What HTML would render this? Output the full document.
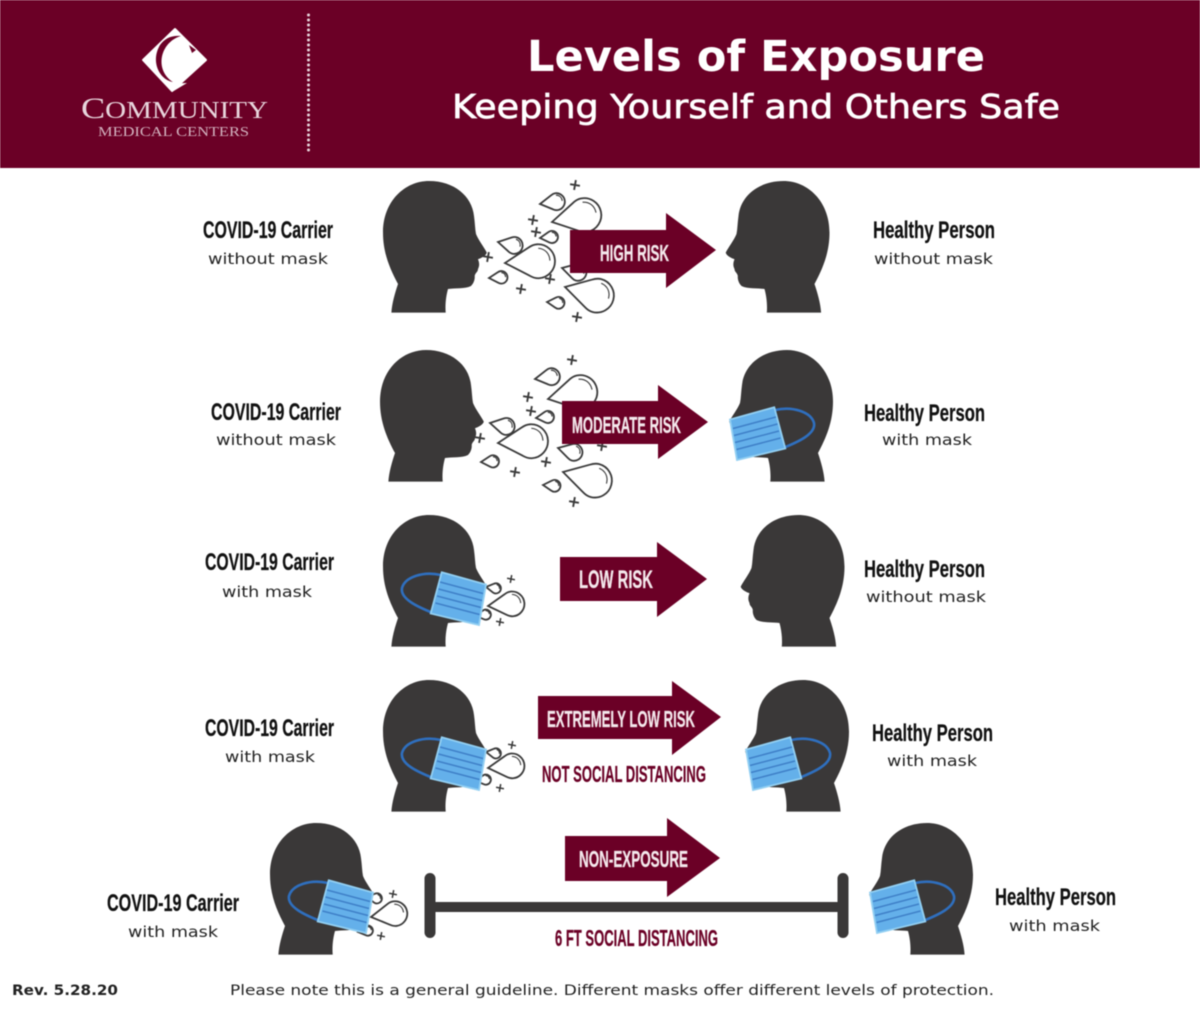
<!DOCTYPE html>
<html><head><meta charset="utf-8"><style>
html,body{margin:0;padding:0;background:#fff;width:1200px;height:1015px;overflow:hidden}
svg{display:block;filter:blur(.55px)}
text{font-family:"Liberation Sans",sans-serif}
.t{font-weight:700;font-size:24px;fill:#111;stroke:#111;stroke-width:.25}
.s{font-family:"DejaVu Sans","Liberation Sans",sans-serif;font-size:15px;fill:#222}
.a{font-weight:700;font-size:23px;fill:#f4e8ec;stroke:#f4e8ec;stroke-width:.25}
.m{font-weight:700;font-size:23px;fill:#6b0026;stroke:#6b0026;stroke-width:.25}
.f{font-family:"DejaVu Sans","Liberation Sans",sans-serif;font-size:14.5px;fill:#222}
.ar{fill:#6b0026}
.pl{stroke:#3a3a3a;stroke-width:1.9;fill:none}
</style></head><body>
<svg xmlns="http://www.w3.org/2000/svg" width="1200" height="1015" viewBox="0 0 1200 1015">
<defs>
<path id="hp" d="M8.4,131.6 C9,122 12,112 15,103 C7,88 0,72 0,51.6 C0,20 22,0 46,0 C71,0 89,15 91,35 C92,42 92,48 93,53 C96,60 101,66 103.8,71.6 C103,75 98,77 95,78.3 C96,81 97,84 95,88 C95,91 92,92 91.7,95 C92,98 91,102 88,105 C82,108 72,107 65,108 C63,115 62,124 62.7,131.6 Z" fill="#3a3838"/>
<g id="mh">
<use href="#hp"/>
<path d="M58,60 C40,56 22,62 19,73 C17,84 35,92 50,98" fill="none" stroke="#2f6fbe" stroke-width="2.6"/>
<path d="M58.7,57.3 L103,69.500 L96,110 L47.7,98.500 Z" fill="#64b0ea" stroke="#92cff2" stroke-width="1.8"/>
<path d="M57,67 L100,78.500 M55.500,74 L99,85.500 M54,81 L98,92.500 M52.500,88 L96.500,99.500" stroke="#3f80c8" stroke-width="1.5" fill="none"/>
</g>
<g id="d" fill="none" stroke="#3a3a3a" stroke-width="1.8">
<path vector-effect="non-scaling-stroke" d="M0,0 L24,-14 C28,-16.500 30,-17 33,-17 A17,17 0 0 1 33,17 C30,17 28,16.500 24,14 Z" fill="#fff"/>
<path vector-effect="non-scaling-stroke" d="M34,-13 C41,-12 45,-7 45,0" stroke-width="1.1"/>
</g>
<path id="p" class="pl" d="M-5,0 H5 M0,-5 V5"/>
</defs>

<rect x="0" y="0" width="1200" height="168" fill="#6b0026"/>
<path d="M175,29 L206,60 L172,91 L143,60 Z" fill="#fff" stroke="#fff" stroke-width="2" stroke-linejoin="round"/>
<path d="M181,36 C160,42 154,70 173,82 C160,80 150,62 160,45 C165,38 172,35 181,36 Z" fill="#6b0026"/>
<path d="M189,45 L196,50 L192,53 Z" fill="#6b0026"/>
<path d="M165,84 L187,83 L172,92 Z" fill="#fff"/>
<text x="81" y="118" textLength="187" lengthAdjust="spacingAndGlyphs" style="font-family:'Liberation Serif',serif;font-size:30px;fill:#e8d5dc">C<tspan font-size="24">OMMUNITY</tspan></text>
<text x="98" y="136" textLength="151" lengthAdjust="spacingAndGlyphs" style="font-family:'Liberation Serif',serif;font-size:14px;fill:#d3b2bf">MEDICAL CENTERS</text>
<line x1="308.500" y1="15" x2="308.500" y2="153" stroke="#e8d5dc" stroke-width="3" stroke-dasharray="0 5" stroke-linecap="round"/>
<text x="527" y="71" textLength="458" lengthAdjust="spacingAndGlyphs" style="font-family:'DejaVu Sans',sans-serif;font-weight:700;font-size:43px;fill:#fff">Levels of Exposure</text>
<text x="452" y="118" textLength="608" lengthAdjust="spacingAndGlyphs" style="font-family:'DejaVu Sans',sans-serif;font-size:33px;fill:#fff;stroke:#fff;stroke-width:.7">Keeping Yourself and Others Safe</text>

<!-- Row 1 -->
<use href="#hp" transform="translate(383,181)"/>
<use href="#hp" transform="translate(829.500,181) scale(-1,1)"/>
<use href="#d" transform="translate(552,222) rotate(-12)"/>
<use href="#d" transform="translate(505,263) rotate(-3)"/>
<use href="#d" transform="translate(565,287) rotate(15)"/>
<use href="#d" transform="translate(562,268) rotate(15) scale(.5)"/>
<use href="#d" transform="translate(540,204) rotate(-8) scale(.5)"/>
<use href="#d" transform="translate(498,242) rotate(12) scale(.5)"/>
<use href="#d" transform="translate(540,238) rotate(-5) scale(.36)"/>
<use href="#d" transform="translate(489,278) rotate(-3) scale(.37)"/>
<use href="#d" transform="translate(547,302) rotate(4) scale(.35)"/>
<use href="#p" transform="translate(575,185) rotate(10)"/>
<use href="#p" transform="translate(533,220) rotate(10)"/>
<use href="#p" transform="translate(536,232) rotate(10)"/>
<use href="#p" transform="translate(488,257) rotate(10)"/>
<use href="#p" transform="translate(550,279) rotate(10)"/>
<use href="#p" transform="translate(521,289) rotate(10)"/>
<use href="#p" transform="translate(577,317) rotate(10)"/>
<path class="ar" d="M570,230 H666 V213 L716,250 L666,288 V273 H570 Z"/>
<text class="a" x="600" y="261" textLength="69" lengthAdjust="spacingAndGlyphs">HIGH RISK</text>
<text class="t" x="203" y="238" textLength="130" lengthAdjust="spacingAndGlyphs">COVID-19 Carrier</text>
<text class="s" x="208" y="264" textLength="120" lengthAdjust="spacingAndGlyphs">without mask</text>
<text class="t" x="873" y="238" textLength="122" lengthAdjust="spacingAndGlyphs">Healthy Person</text>
<text class="s" x="874" y="264" textLength="119" lengthAdjust="spacingAndGlyphs">without mask</text>

<!-- Row 2 -->
<use href="#hp" transform="translate(380,350)"/>
<use href="#mh" transform="translate(833,350) scale(-1,1)"/>
<use href="#d" transform="translate(548,399) rotate(-12)"/>
<use href="#d" transform="translate(498,443) rotate(-3)"/>
<use href="#d" transform="translate(563,472) rotate(15)"/>
<use href="#d" transform="translate(558,448) rotate(15) scale(.5)"/>
<use href="#d" transform="translate(535,379) rotate(-8) scale(.5)"/>
<use href="#d" transform="translate(490,423) rotate(12) scale(.5)"/>
<use href="#d" transform="translate(536,418) rotate(-5) scale(.36)"/>
<use href="#d" transform="translate(481,462) rotate(-3) scale(.36)"/>
<use href="#d" transform="translate(543,485) rotate(4) scale(.35)"/>
<use href="#p" transform="translate(572,360) rotate(10)"/>
<use href="#p" transform="translate(528,397) rotate(10)"/>
<use href="#p" transform="translate(531,411) rotate(10)"/>
<use href="#p" transform="translate(480,438) rotate(10)"/>
<use href="#p" transform="translate(546,462) rotate(10)"/>
<use href="#p" transform="translate(515,472) rotate(10)"/>
<use href="#p" transform="translate(574,502) rotate(10)"/>
<use href="#p" transform="translate(602,446) rotate(10)"/>
<path class="ar" d="M562,401 H658 V385 L708,422 L658,459 V444 H562 Z"/>
<text class="a" x="572" y="433" textLength="109" lengthAdjust="spacingAndGlyphs">MODERATE RISK</text>
<text class="t" x="211" y="420" textLength="130" lengthAdjust="spacingAndGlyphs">COVID-19 Carrier</text>
<text class="s" x="216" y="445" textLength="120" lengthAdjust="spacingAndGlyphs">without mask</text>
<text class="t" x="864" y="421" textLength="121" lengthAdjust="spacingAndGlyphs">Healthy Person</text>
<text class="s" x="882" y="445" textLength="90" lengthAdjust="spacingAndGlyphs">with mask</text>

<!-- Row 3 -->
<use href="#d" transform="translate(488,606) rotate(-5) scale(.73)"/>
<use href="#d" transform="translate(486,587) rotate(8) scale(.3)"/>
<use href="#d" transform="translate(476,616) rotate(-8) scale(.3)"/>
<use href="#p" transform="translate(511,579) rotate(10) scale(.8)"/>
<use href="#p" transform="translate(500,622) rotate(10) scale(.8)"/>
<use href="#mh" transform="translate(383,515)"/>
<use href="#hp" transform="translate(844.500,515) scale(-1,1)"/>
<path class="ar" d="M560,557 H657 V542 L707,579 L657,617 V601 H560 Z"/>
<text class="a" x="579" y="588" textLength="74" lengthAdjust="spacingAndGlyphs" style="font-size:25px">LOW RISK</text>
<text class="t" x="205" y="570" textLength="129" lengthAdjust="spacingAndGlyphs">COVID-19 Carrier</text>
<text class="s" x="222" y="597" textLength="90" lengthAdjust="spacingAndGlyphs">with mask</text>
<text class="t" x="864" y="577" textLength="121" lengthAdjust="spacingAndGlyphs">Healthy Person</text>
<text class="s" x="866" y="602" textLength="120" lengthAdjust="spacingAndGlyphs">without mask</text>

<!-- Row 4 -->
<use href="#d" transform="translate(488,768) rotate(-5) scale(.73)"/>
<use href="#d" transform="translate(486,752) rotate(8) scale(.3)"/>
<use href="#d" transform="translate(476,781) rotate(-8) scale(.3)"/>
<use href="#p" transform="translate(512,745) rotate(10) scale(.8)"/>
<use href="#p" transform="translate(500,788) rotate(10) scale(.8)"/>
<use href="#mh" transform="translate(849,680) scale(-1,1)"/>
<use href="#mh" transform="translate(383,680)"/>
<path class="ar" d="M538,696 H672 V681 L721,717 L672,755 V739 H538 Z"/>
<text class="a" x="547" y="727" textLength="148" lengthAdjust="spacingAndGlyphs">EXTREMELY LOW RISK</text>
<text class="m" x="542" y="782" textLength="164" lengthAdjust="spacingAndGlyphs">NOT SOCIAL DISTANCING</text>
<text class="t" x="205" y="736" textLength="129" lengthAdjust="spacingAndGlyphs">COVID-19 Carrier</text>
<text class="s" x="225" y="762" textLength="90" lengthAdjust="spacingAndGlyphs">with mask</text>
<text class="t" x="872" y="741" textLength="121" lengthAdjust="spacingAndGlyphs">Healthy Person</text>
<text class="s" x="887" y="766" textLength="90" lengthAdjust="spacingAndGlyphs">with mask</text>

<!-- Row 5 -->
<use href="#d" transform="translate(371,917) rotate(-8) scale(.73)"/>
<use href="#d" transform="translate(367,897) rotate(8) scale(.3)"/>
<use href="#d" transform="translate(358,932) rotate(-8) scale(.3)"/>
<use href="#p" transform="translate(393,894) rotate(10) scale(.8)"/>
<use href="#p" transform="translate(381,936) rotate(10) scale(.8)"/>
<use href="#mh" transform="translate(270,823)"/>
<use href="#mh" transform="translate(973,823) scale(-1,1)"/>
<rect x="430" y="902" width="413" height="10" fill="#3a3838"/>
<rect x="424.500" y="873" width="11" height="65" rx="5.500" fill="#3a3838"/>
<rect x="837.500" y="873" width="11" height="65" rx="5.500" fill="#3a3838"/>
<path class="ar" d="M565,836 H667 V818 L720,858 L667,897 V881 H565 Z"/>
<text class="a" x="579" y="867" textLength="109" lengthAdjust="spacingAndGlyphs">NON-EXPOSURE</text>
<text class="m" x="555" y="946" textLength="163" lengthAdjust="spacingAndGlyphs">6 FT SOCIAL DISTANCING</text>
<text class="t" x="107" y="911" textLength="132" lengthAdjust="spacingAndGlyphs">COVID-19 Carrier</text>
<text class="s" x="128" y="937" textLength="90" lengthAdjust="spacingAndGlyphs">with mask</text>
<text class="t" x="995" y="905" textLength="121" lengthAdjust="spacingAndGlyphs">Healthy Person</text>
<text class="s" x="1009" y="931" textLength="91" lengthAdjust="spacingAndGlyphs">with mask</text>

<!-- Footer -->
<text class="f" x="12" y="995" textLength="106" lengthAdjust="spacingAndGlyphs" style="font-weight:700">Rev. 5.28.20</text>
<text class="f" x="230" y="995" textLength="764" lengthAdjust="spacingAndGlyphs">Please note this is a general guideline. Different masks offer different levels of protection.</text>
</svg>
</body></html>
